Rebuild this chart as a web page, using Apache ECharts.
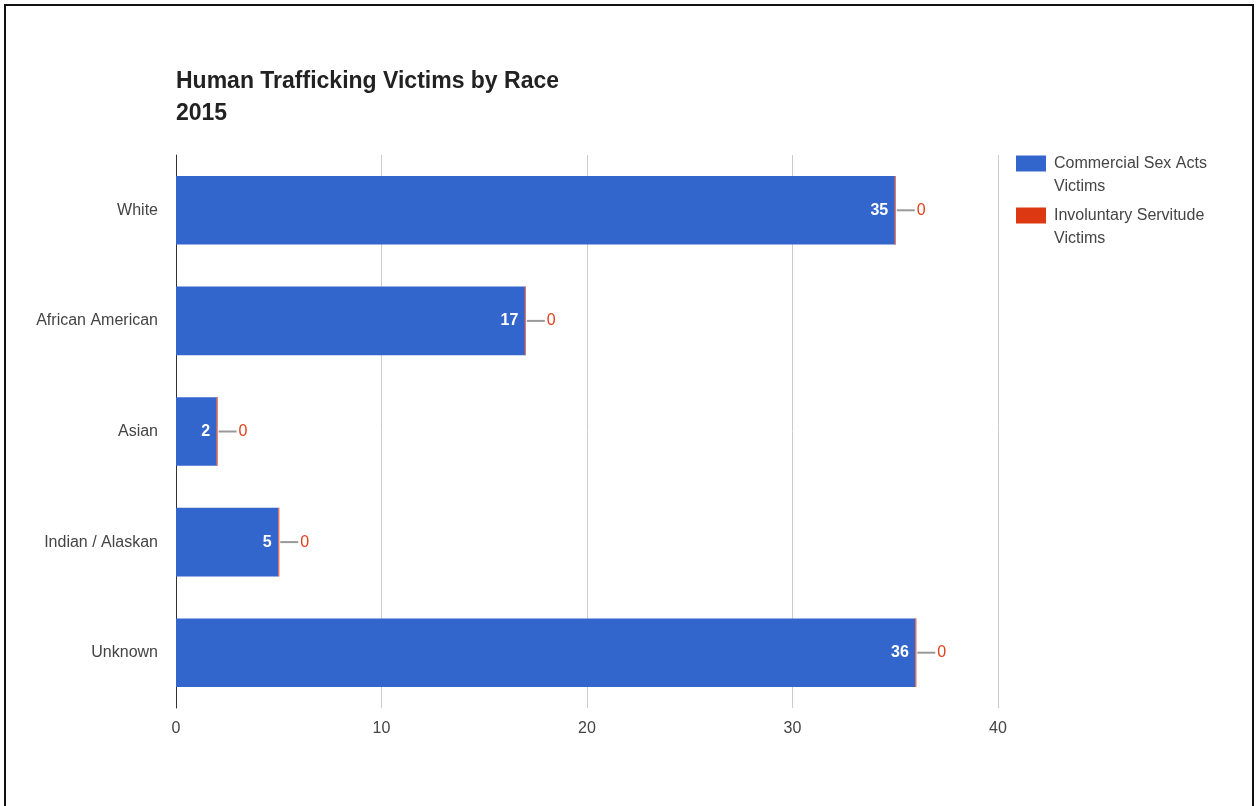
<!DOCTYPE html>
<html>
<head>
<meta charset="utf-8">
<script src="https://cdn.jsdelivr.net/npm/echarts@6/dist/echarts.min.js"></script>
<style>
html,body{margin:0;padding:0;background:#fff;}
#chart{width:1259px;height:806px;}
</style>
</head>
<body>
<div id="chart"></div>
<script>
const categories = ['White', 'African American', 'Asian', 'Indian / Alaskan', 'Unknown'];
const commercialSex = [35, 17, 2, 5, 36];
const involuntaryServitude = [0, 0, 0, 0, 0];
const seriesNames = ['Commercial Sex Acts Victims', 'Involuntary Servitude Victims'];
const legendLines = [['Commercial Sex Acts', 'Victims'], ['Involuntary Servitude', 'Victims']];
const xTicks = [0, 10, 20, 30, 40];

const FONT = '"Liberation Sans", Arial, sans-serif';
const chart = echarts.init(document.getElementById('chart'), null, {renderer: 'canvas'});
chart.setOption({
  animation: false,
  backgroundColor: '#fff',
  textStyle: {fontFamily: FONT},
  title: {
    text: 'Human Trafficking Victims by Race\n2015',
    left: 176,
    top: 66,
    padding: 0,
    textStyle: {fontFamily: FONT, fontSize: 23, fontWeight: 'bold', color: '#222', lineHeight: 32}
  },
  graphic: [{
    type: 'rect',
    shape: {x: 5, y: 5, width: 1248, height: 900},
    style: {fill: 'none', stroke: '#111', lineWidth: 2},
    silent: true
  }],
  legend: {
    orient: 'vertical',
    left: 1016,
    top: 129,
    padding: 0,
    itemWidth: 30,
    itemHeight: 16,
    itemGap: -17,
    icon: 'rect',
    itemStyle: {borderWidth: 0},
    data: seriesNames,
    formatter: function (name) {
      const l = legendLines[seriesNames.indexOf(name)];
      return '{t|}\n{t|' + l[0] + '}\n{t|' + l[1] + '}';
    },
    textStyle: {
      fontFamily: FONT, fontSize: 16, color: '#444', lineHeight: 23,
      rich: {t: {fontFamily: FONT, fontSize: 16, color: '#444', lineHeight: 23, height: 23, padding: [0, 0, 0, 3]}}
    }
  },
  grid: {left: 176, right: 261, top: 155, bottom: 98, containLabel: false},
  xAxis: {
    type: 'value',
    min: 0,
    max: 40,
    interval: 10,
    axisLine: {show: false},
    axisTick: {show: false},
    splitLine: {show: true, lineStyle: {color: '#ccc', width: 1}},
    axisLabel: {
      fontFamily: FONT, fontSize: 16, color: '#444', margin: 13,
      formatter: function (v) { return xTicks.indexOf(v) >= 0 ? String(v) : ''; }
    }
  },
  yAxis: {
    type: 'category',
    data: categories,
    inverse: true,
    axisLine: {show: true, lineStyle: {color: '#333', width: 1}},
    axisTick: {show: false},
    axisLabel: {fontFamily: FONT, fontSize: 16, color: '#444', margin: 18}
  },
  series: [
    {
      name: seriesNames[0],
      type: 'bar',
      stack: 'total',
      data: commercialSex,
      barCategoryGap: '38%',
      itemStyle: {color: '#3366cc'},
      label: {
        show: true,
        position: 'insideRight',
        distance: 7,
        color: '#fff',
        fontFamily: FONT,
        fontSize: 16,
        fontWeight: 'bold'
      }
    },
    {
      name: seriesNames[1],
      type: 'bar',
      stack: 'total',
      data: involuntaryServitude,
      itemStyle: {color: '#dc3912', borderColor: '#e8735a', borderWidth: 1},
      label: {
        show: true,
        position: 'right',
        distance: 1,
        formatter: function (p) { return '{ln|}{v|' + p.value + '}'; },
        rich: {
          ln: {width: 18, height: 2, backgroundColor: '#999'},
          v: {color: '#e0401c', fontFamily: FONT, fontSize: 16, padding: [0, 0, 0, 2]}
        }
      }
    }
  ]
});
</script>
</body>
</html>
